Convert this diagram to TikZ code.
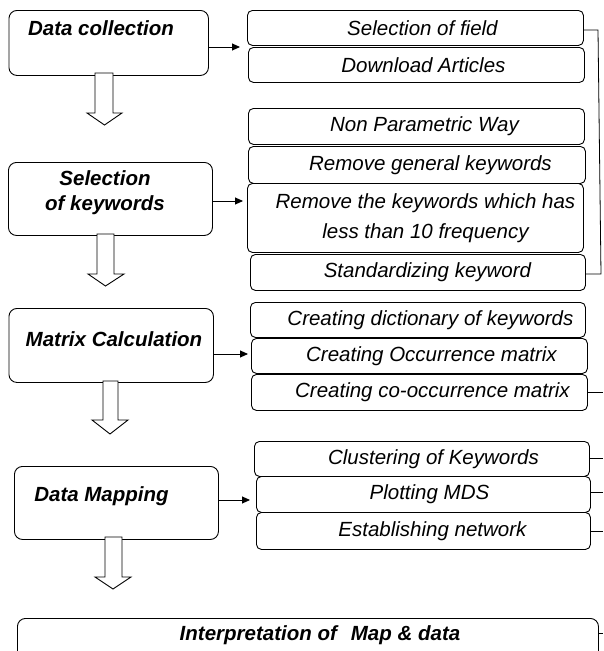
\documentclass[tikz,border=0pt]{standalone}
\usepackage{fontspec}
\setmainfont{Liberation Sans}
\usetikzlibrary{arrows.meta}
\begin{document}
\begin{tikzpicture}[x=1pt,y=-1pt,
  item/.style={draw, line width=0.9pt, rounded corners=5pt, inner sep=0pt, anchor=north west, align=center, font=\fontsize{20.5}{30}\selectfont\itshape},
  headbox/.style={draw, line width=0.9pt, rounded corners=8pt, inner sep=0pt, anchor=north west},
  title/.style={font=\fontsize{20.5}{25}\selectfont\bfseries\itshape, align=center, inner sep=0pt},
  link/.style={line width=0.9pt, -{Triangle[length=8pt,width=7pt]}},
  wire/.style={line width=0.8pt},
  hollow/.style={draw, line width=0.9pt, fill=white, line join=miter}
]
\useasboundingbox (0,0) rectangle (603,651);
\clip (0,0) rectangle (603,651);

% ---------- left column boxes ----------
\node[headbox, minimum width=199.5pt, minimum height=65pt] (dc) at (8.5,10) {};
\node[title] (dct) at (101,28) {Data collection};
\node[headbox, minimum width=204pt, minimum height=73pt] (sel) at (8,162) {};
\node[title] (selt) at (105,193) {Selection\\of keywords};
\node[headbox, minimum width=204.5pt, minimum height=74pt] (mc) at (8.5,308) {};
\node[title] (mct) at (114,339) {Matrix Calculation};
\node[headbox, minimum width=204pt, minimum height=73pt] (dm) at (14,466) {};
\node[title] (dmt) at (101.5,496) {Data Mapping};
\node[headbox, minimum width=581pt, minimum height=60pt] (ip) at (17,618) {};
\node[title] (ipt) at (320,635) {Interpretation of\hspace{14pt}Map \& data};

% ---------- right column boxes ----------
\node[item, minimum width=336pt, minimum height=35pt] (sf) at (247,10) {\hspace*{14pt}Selection of field};
\node[item, minimum width=336pt, minimum height=35pt] (da) at (248,47) {\hspace*{14pt}Download Articles};
\node[item, minimum width=336pt, minimum height=36pt] (np) at (248,108) {\hspace*{16pt}Non Parametric Way};
\node[item, minimum width=337pt, minimum height=37pt] (rg) at (248,146) {\hspace*{27pt}Remove general keywords};
\node[item, minimum width=336pt, minimum height=69pt] (rk) at (247,183) {\hspace*{20pt}Remove the keywords which has\\\hspace*{20pt}less than 10 frequency};
\node[item, minimum width=335pt, minimum height=36pt] (sk) at (250,254) {\hspace*{19pt}Standardizing keyword};
\node[item, minimum width=335pt, minimum height=35pt] (cd) at (250,302) {\hspace*{25pt}Creating dictionary of keywords};
\node[item, minimum width=336pt, minimum height=35pt] (co) at (251,338) {\hspace*{24pt}Creating Occurrence matrix};
\node[item, minimum width=336pt, minimum height=36pt] (cc) at (251,374) {\hspace*{26pt}Creating co-occurrence matrix};
\node[item, minimum width=335pt, minimum height=35pt] (ck) at (254,441) {\hspace*{23pt}Clustering of Keywords};
\node[item, minimum width=334pt, minimum height=36pt] (pm) at (256,476) {\hspace*{12pt}Plotting MDS};
\node[item, minimum width=334pt, minimum height=37pt] (en) at (256,512) {\hspace*{18pt}Establishing network};

% ---------- arrows to the lists ----------
\coordinate (a1) at (240,47);
\coordinate (a2) at (243,201);
\coordinate (a3) at (248,354);
\coordinate (a4) at (250,500);
\draw[link] (dc.east |- a1) -- (a1);
\draw[link] (sel.east |- a2) -- (a2);
\draw[link] (mc.east |- a3) -- (a3);
\draw[link] (dm.east |- a4) -- (a4);

% ---------- hollow down arrows ----------
\draw[hollow] (95,73) -- (113,73) -- (113,113) -- (122,113) -- (104.5,125) -- (87,113) -- (95,113) -- cycle;
\draw[hollow] (97,234) -- (114,234) -- (114,274) -- (124,274) -- (105.5,286) -- (88,274) -- (97,274) -- cycle;
\draw[hollow] (103,381) -- (118,381) -- (118,420) -- (128,420) -- (110,434) -- (92,420) -- (103,420) -- cycle;
\draw[hollow] (105,537) -- (122,537) -- (122,577) -- (131,577) -- (113,589) -- (95,577) -- (105,577) -- cycle;

% ---------- right-hand wires ----------
\coordinate (r1) at (598,30);
\coordinate (r2) at (601,274);
\draw[wire] (sf.east |- r1) -- (r1) -- (r2) -- (sk.east |- r2);
\coordinate (s1) at (603,392);
\coordinate (s2) at (603,458);
\coordinate (s3) at (603,492);
\coordinate (s4) at (603,531);
\coordinate (s5) at (603,633);
\draw[wire] (cc.east |- s1) -- (s1);
\draw[wire] (ck.east |- s2) -- (s2);
\draw[wire] (pm.east |- s3) -- (s3);
\draw[wire] (en.east |- s4) -- (s4);
\draw[wire] (ip.east |- s5) -- (s5);
\end{tikzpicture}
\end{document}
